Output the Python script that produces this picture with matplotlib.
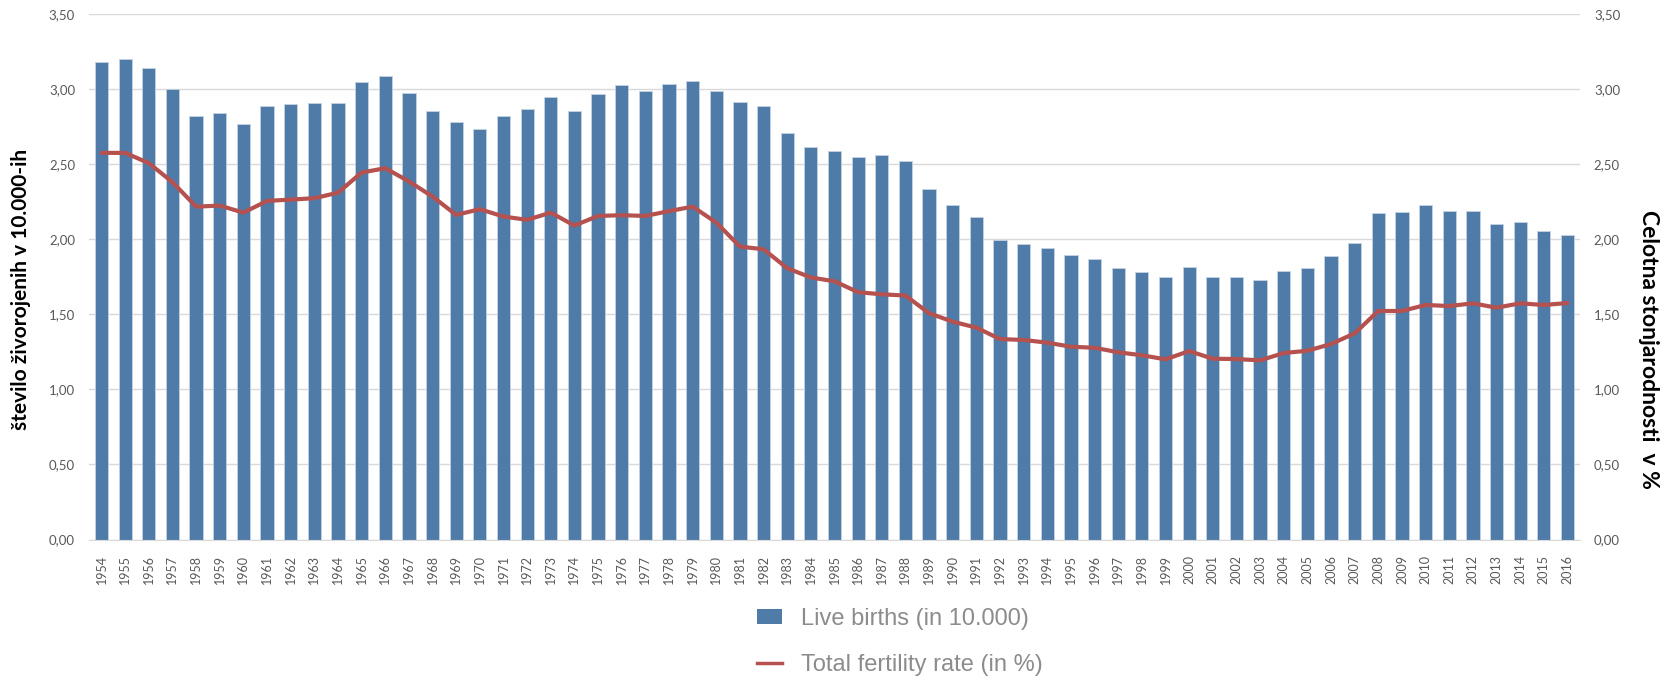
import matplotlib.pyplot as plt
from matplotlib.ticker import FuncFormatter, MultipleLocator
from matplotlib.patches import Patch
from matplotlib.lines import Line2D

# years 1954-2016
years = list(range(1954, 2017))

# live births, in units of 10.000
live_births = [
    3.18, 3.20, 3.14, 3.00, 2.82, 2.84, 2.77, 2.89, 2.90, 2.91,  # 1954-1963
    2.91, 3.05, 3.085, 2.976, 2.853, 2.782, 2.735, 2.82, 2.869, 2.947,  # 1964-1973
    2.853, 2.969, 3.024, 2.987, 3.031, 3.055, 2.987, 2.916, 2.884, 2.71,  # 1974-1983
    2.617, 2.587, 2.549, 2.558, 2.518, 2.337, 2.227, 2.151, 1.995, 1.971,  # 1984-1993
    1.94, 1.893, 1.871, 1.809, 1.784, 1.747, 1.813, 1.747, 1.747, 1.729,  # 1994-2003
    1.791, 1.809, 1.887, 1.978, 2.173, 2.182, 2.227, 2.189, 2.189, 2.104,  # 2004-2013
    2.113, 2.058, 2.027,  # 2014-2016
]

# total fertility rate
fertility = [
    2.575, 2.575, 2.507, 2.38, 2.217, 2.224, 2.177, 2.255, 2.264, 2.273,  # 1954-1963
    2.31, 2.444, 2.473, 2.385, 2.284, 2.162, 2.20, 2.151, 2.129, 2.177,  # 1964-1973
    2.091, 2.155, 2.16, 2.155, 2.187, 2.217, 2.111, 1.951, 1.933, 1.807,  # 1974-1983
    1.745, 1.72, 1.647, 1.633, 1.625, 1.507, 1.451, 1.411, 1.335, 1.329,  # 1984-1993
    1.311, 1.284, 1.277, 1.247, 1.227, 1.20, 1.255, 1.204, 1.202, 1.193,  # 1994-2003
    1.242, 1.257, 1.302, 1.373, 1.522, 1.522, 1.562, 1.555, 1.573, 1.544,  # 2004-2013
    1.573, 1.562, 1.575,  # 2014-2016
]

bar_color = '#4F7BA9'
line_color = '#B5514F'
tick_color = '#595959'
grid_color = '#D9D9D9'

plt.rcParams['font.family'] = ['Lato', 'DejaVu Sans']

fig = plt.figure(figsize=(16.73, 6.8), dpi=100)
ax = fig.add_axes([89 / 1673, 1 - 539.5 / 680, (1580 - 89) / 1673, (539.5 - 14) / 680])
ax2 = ax.twinx()

x = list(range(len(years)))
ax.bar(x, live_births, width=0.56, color=bar_color, edgecolor='#C5D3E3', linewidth=0.6, zorder=2)
ax2.plot(x, fertility, color=line_color, lw=3, solid_joinstyle='round', solid_capstyle='round', zorder=3)

comma_fmt = FuncFormatter(lambda v, _: f'{v:.2f}'.replace('.', ','))
for a in (ax, ax2):
    a.set_ylim(0, 3.5)
    a.yaxis.set_major_locator(MultipleLocator(0.5))
    a.yaxis.set_major_formatter(comma_fmt)
    for s in a.spines.values():
        s.set_visible(False)
    a.tick_params(axis='y', length=0, labelsize=9.5, labelcolor=tick_color, pad=10)

ax.set_xlim(-0.53, len(years) - 0.47)
ax.grid(axis='y', color=grid_color, lw=1, zorder=0)
ax.set_axisbelow(True)
ax.spines['bottom'].set_visible(True)
ax.spines['bottom'].set_color(grid_color)
ax.set_xticks(x)
ax.set_xticklabels([str(y) for y in years], rotation=90, fontsize=9, color=tick_color, va='top')
ax.tick_params(axis='x', length=0, pad=11)

ax.set_ylabel('število živorojenih v 10.000-ih', fontsize=15, fontweight='bold', va='center')
ax.yaxis.set_label_coords(-0.0454, 0.475)
ax2.set_ylabel('Celotna stonjarodnosti  v %', fontsize=16.5, fontweight='bold', rotation=270, va='center')
ax2.yaxis.set_label_coords(1.046, 0.3625)

handles = [
    Patch(facecolor=bar_color, edgecolor='none'),
    Line2D([0], [0], color=line_color, lw=2.5),
]
labels = ['Live births (in 10.000)', 'Total fertility rate (in %)']
leg = fig.legend(handles, labels, loc='center', bbox_to_anchor=(0.538, 38 / 680), ncol=1,
                 frameon=False, handlelength=1.05, handleheight=0.6, handletextpad=0.8,
                 labelspacing=1.0, borderpad=0, prop={'family': 'Liberation Sans', 'size': 17})
for t in leg.get_texts():
    t.set_color('#8C8C8C')

fig.savefig('out.png', dpi=100)
